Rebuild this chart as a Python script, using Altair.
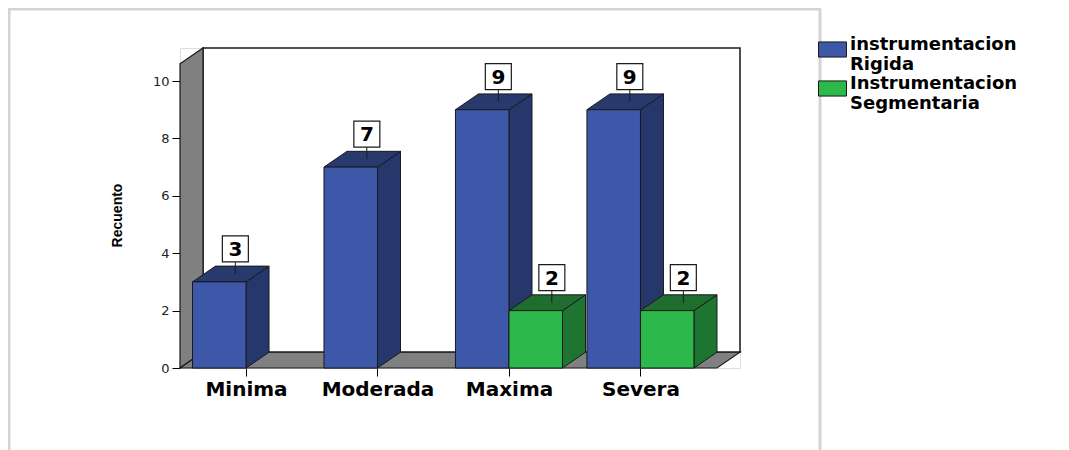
import altair as alt
import pandas as pd

# ---- data ----
categories = ["Minima", "Moderada", "Maxima", "Severa"]
series = ["instrumentacion Rigida", "Instrumentacion Segmentaria"]
rigida = [3, 7, 9, 9]
segmentaria = [0, 0, 2, 2]
y_ticks = [0, 2, 4, 6, 8, 10]

# ---- styling ----
FRONT = ["#3E58A9", "#2DB84B"]
SIDE = ["#26376B", "#1E7431"]
TOP = ["#28396E", "#1F6E30"]
WALL = "#808080"
EDGE = "#1A1A1A"

# geometry of the pseudo-3D scene, in data units
W = 0.407      # bar width (category spacing = 1)
DX = 0.175     # depth offset along x
DY = 0.55      # depth offset along y
XMIN, XMAX, YMAX = -0.502, 3.757, 11.15
LABEL_OFF = 1.15
BOX_HALF = 0.453

xs = alt.Scale(domain=[XMIN, XMAX], nice=False, zero=False)
ys = alt.Scale(domain=[0, YMAX], nice=False, zero=False)

label_expr = "[" + ",".join("'%s'" % c for c in categories) + "][datum.value]"
X_AX = alt.Axis(values=list(range(len(categories))), labelExpr=label_expr, title=None,
                domain=False, grid=False, tickSize=8, tickColor="#000", tickWidth=1,
                labelFont="DejaVu Sans", labelFontWeight="bold", labelFontSize=20,
                labelColor="#000", labelPadding=3)
Y_AX = alt.Axis(values=y_ticks, title="Recuento", domain=False, grid=False, tickSize=8,
                tickColor="#000", tickWidth=1, labelFont="DejaVu Sans", labelFontSize=13,
                labelColor="#222", labelPadding=3,
                titleFont="Liberation Sans", titleFontWeight="bold", titleFontSize=14,
                titleColor="#000", titleAngle=270, titleX=-63, titleY=167,
                titleAlign="center", titleBaseline="middle")


def X(field):
    return alt.X(field, type="quantitative", scale=xs, axis=X_AX)


def Y(field):
    return alt.Y(field, type="quantitative", scale=ys, axis=Y_AX)


# ---- build faces from the data ----
fronts, sides, tops, labels = [], [], [], []
for s, vals in enumerate([rigida, segmentaria]):
    for i, v in enumerate(vals):
        if v <= 0:
            continue
        left = i - W if s == 0 else i
        right = left + W
        bid = "%d-%d" % (s, i)
        fronts.append(dict(series=series[s], s=s, x1=left, x2=right, y0=0, v=v))
        sides.append(dict(id=bid, s=s, x=right, y=0, y2=v, fill=SIDE[s]))
        sides.append(dict(id=bid, s=s, x=right + DX, y=DY, y2=v + DY, fill=SIDE[s]))
        tops.append(dict(id=bid, s=s, x=left, y=v, y2=v, fill=TOP[s]))
        tops.append(dict(id=bid, s=s, x=left + DX, y=v, y2=v + DY, fill=TOP[s]))
        tops.append(dict(id=bid, s=s, x=right, y=v, y2=v + DY, fill=TOP[s]))
        tops.append(dict(id=bid, s=s, x=right + DX, y=v + DY, y2=v + DY, fill=TOP[s]))
        lx = (left + right) / 2 + 0.7 * DX
        labels.append(dict(s=s, lx=lx, ly=v + LABEL_OFF, r1=v + DY / 2,
                           r2=v + LABEL_OFF - BOX_HALF, txt=str(v)))

fronts = pd.DataFrame(fronts)
sides = pd.DataFrame(sides)
tops = pd.DataFrame(tops)
labels = pd.DataFrame(labels)

back = pd.DataFrame([dict(x1=XMIN + DX, x2=XMAX, y1=DY, y2=YMAX)])
lwall = pd.DataFrame([dict(id="w", x=XMIN, y=0, y2=YMAX - DY),
                      dict(id="w", x=XMIN + DX, y=DY, y2=YMAX)])
floor = pd.DataFrame([dict(id="f", x=XMIN, y=0, y2=0),
                      dict(id="f", x=XMIN + DX, y=0, y2=DY),
                      dict(id="f", x=XMAX - DX, y=0, y2=DY),
                      dict(id="f", x=XMAX, y=DY, y2=DY)])

layers = []

# outer light-grey frame of the original picture
frame = alt.Chart(pd.DataFrame({"a": [0]}))
layers.append(frame.mark_rule(color="#D3D3D3", strokeWidth=3).encode(
    x=alt.value(-171), y=alt.value(-39), y2=alt.value(402)))
layers.append(frame.mark_rule(color="#D3D3D3", strokeWidth=3).encode(
    x=alt.value(-172), x2=alt.value(641), y=alt.value(-39)))
layers.append(frame.mark_rule(color="#D3D3D3", strokeWidth=3).encode(
    x=alt.value(640), y=alt.value(-39), y2=alt.value(402)))

# back wall
layers.append(alt.Chart(back).mark_rect(fill="white", stroke=EDGE, strokeWidth=1.5).encode(
    x=X("x1"), x2="x2", y=Y("y1"), y2="y2"))
# left wall
layers.append(alt.Chart(lwall).mark_area(fill=WALL, stroke=EDGE, strokeWidth=1.2).encode(
    x=X("x"), y=Y("y"), y2="y2", detail="id:N"))
# floor
layers.append(alt.Chart(floor).mark_area(fill=WALL, stroke=EDGE, strokeWidth=1.2).encode(
    x=X("x"), y=Y("y"), y2="y2", detail="id:N"))

for s in range(2):
    sd = sides[sides.s == s]
    td = tops[tops.s == s]
    fd = fronts[fronts.s == s]
    layers.append(alt.Chart(sd).mark_area(stroke=EDGE, strokeWidth=1, opacity=1).encode(
        x=X("x"), y=Y("y"), y2="y2", detail="id:N",
        fill=alt.Fill("fill:N", scale=None)))
    layers.append(alt.Chart(td).mark_area(stroke=EDGE, strokeWidth=1, opacity=1).encode(
        x=X("x"), y=Y("y"), y2="y2", detail="id:N",
        fill=alt.Fill("fill:N", scale=None)))
    layers.append(alt.Chart(fd).mark_rect(stroke=EDGE, strokeWidth=1).encode(
        x=X("x1"), x2="x2", y=Y("y0"), y2="v",
        color=alt.Color("series:N", scale=alt.Scale(domain=series, range=FRONT),
                        legend=alt.Legend(
                            title=None, orient="none", legendX=638, legendY=-13,
                            symbolType="M-1,-0.54L1,-0.54L1,0.54L-1,0.54Z",
                            symbolSize=784, symbolStrokeColor=EDGE, symbolStrokeWidth=1,
                            symbolOpacity=1,
                            labelFont="DejaVu Sans", labelFontWeight="bold",
                            labelFontSize=18, labelColor="#000",
                            labelExpr="split(datum.label, ' ')",
                            labelOffset=3, rowPadding=0, labelBaseline="alphabetic",
                            labelLimit=400))))

# value labels: leader line, white box, number
layers.append(alt.Chart(labels).mark_rule(color=EDGE, strokeWidth=1).encode(
    x=X("lx"), y=Y("r1"), y2="r2"))
layers.append(alt.Chart(labels).mark_square(size=676, filled=True, fill="white",
                                            stroke=EDGE, strokeWidth=1.2, opacity=1).encode(
    x=X("lx"), y=Y("ly")))
layers.append(alt.Chart(labels).mark_text(font="DejaVu Sans", fontWeight="bold", fontSize=20,
                                          baseline="middle", align="center", dy=1,
                                          color="#000").encode(
    x=X("lx"), y=Y("ly"), text="txt:N"))

chart = alt.layer(*layers).properties(
    width=560, height=320,
    autosize=alt.AutoSizeParams(type="none"),
    padding={"left": 172, "top": 40, "right": 320, "bottom": 82},
).configure_view(stroke="transparent").configure(
    style={"guide-label": {"lineHeight": 20}})

chart.save("out.html", embed_options={"renderer": "svg", "actions": False})
